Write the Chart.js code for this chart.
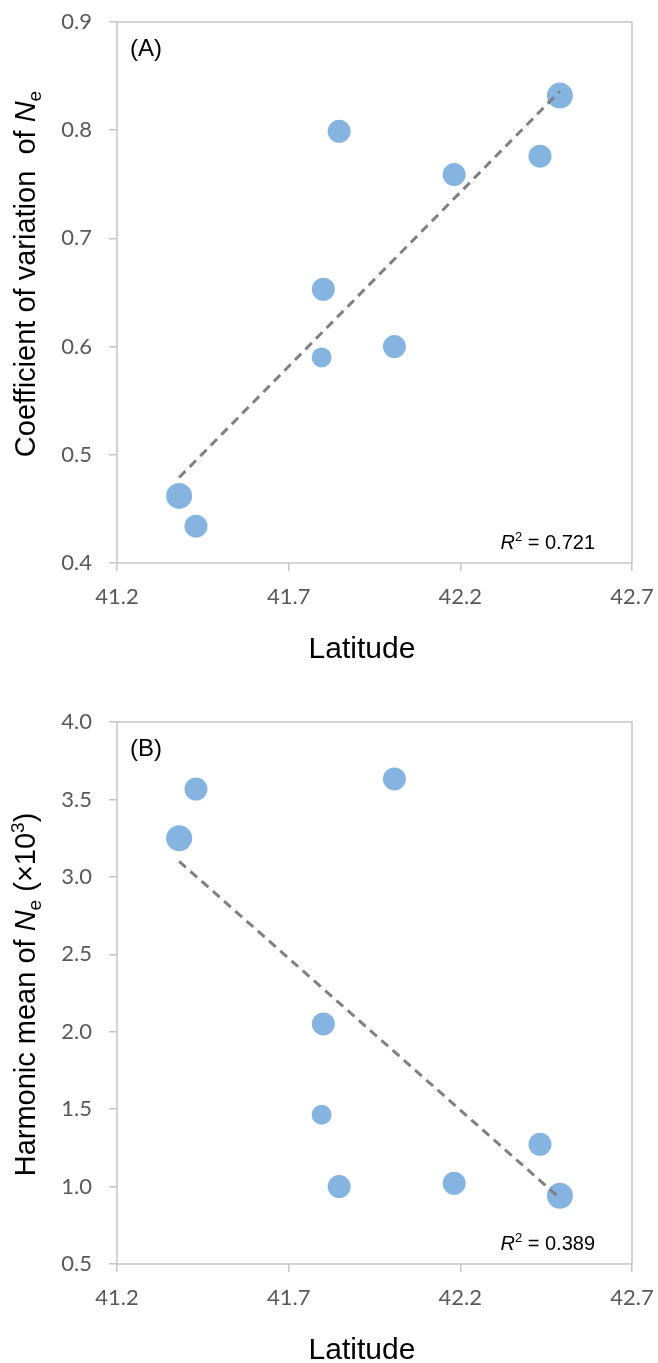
<!DOCTYPE html>
<html>
<head>
<meta charset="utf-8">
<script src="https://cdn.jsdelivr.net/npm/chart.js@4"></script>
<style>
  body { margin: 0; background: #fff; }
  canvas { display: block; }
</style>
</head>
<body>
<canvas id="chartA" width="658" height="680"></canvas>
<canvas id="chartB" width="658" height="683"></canvas>
<script>
// Data
const latitude = [41.381, 41.430, 41.796, 41.801, 41.847, 42.008, 42.182, 42.432, 42.490];
const cvNe = [0.462, 0.434, 0.590, 0.653, 0.799, 0.600, 0.759, 0.776, 0.832];
const harmonicNe = [3.249, 3.567, 1.464, 2.050, 1.000, 3.632, 1.021, 1.273, 0.941];

// Trend lines (endpoints)
const trendLatitude = [41.381, 42.490];
const trendCv = [0.479, 0.836];
const trendHarmonic = [3.10, 0.925];

// Axis ticks
const latitudeTicks = [41.2, 41.7, 42.2, 42.7];
const cvTicks = [0.4, 0.5, 0.6, 0.7, 0.8, 0.9];
const harmonicTicks = [0.5, 1.0, 1.5, 2.0, 2.5, 3.0, 3.5, 4.0];

// Marker radii (style)
const pointRadii = [13, 11.5, 10, 11.5, 11.5, 11.5, 11.5, 11.5, 13];

const pointColor = '#85b4e0';
const frameColor = '#c6c6c6';
const tickFont = { family: 'Lato', size: 22 };
const titleFamily = '"Liberation Sans", Arial, sans-serif';

function toPoints(xs, ys) {
    return xs.map((x, i) => ({ x: x, y: ys[i] }));
}

// Draw a run of text pieces with different fonts / offsets
function drawRich(ctx, parts, x, y, align) {
    let total = 0;
    parts.forEach(p => { ctx.font = p.font; p.w = ctx.measureText(p.t).width; total += p.w; });
    let cur = align === 'center' ? x - total / 2 : (align === 'right' ? x - total : x);
    ctx.textAlign = 'left';
    parts.forEach(p => {
        ctx.font = p.font;
        ctx.fillText(p.t, cur, y + (p.dy || 0));
        cur += p.w;
    });
}

const decorPlugin = {
    id: 'decor',
    beforeDatasetsDraw(chart) {
        const a = chart.chartArea;
        const ctx = chart.ctx;
        ctx.save();
        ctx.strokeStyle = frameColor;
        ctx.lineWidth = 1.5;
        ctx.strokeRect(a.left, a.top, a.right - a.left, a.bottom - a.top);
        ctx.restore();
    },
    afterDraw(chart, args, opts) {
        const a = chart.chartArea;
        const ctx = chart.ctx;
        ctx.save();
        ctx.fillStyle = '#000';
        ctx.textBaseline = 'middle';
        ctx.font = '24px ' + titleFamily;
        ctx.textAlign = 'left';
        ctx.fillText(opts.panel, a.left + 13, a.top + 27);

        ctx.textBaseline = 'alphabetic';
        drawRich(ctx, [
            { t: 'R', font: 'italic 20px ' + titleFamily },
            { t: '2', font: '13px ' + titleFamily, dy: -8 },
            { t: ' = ' + opts.r2, font: '20px ' + titleFamily }
        ], a.right - 37, a.bottom - 14, 'right');

        drawRich(ctx, [{ t: 'Latitude', font: '30px ' + titleFamily }], 362, a.bottom + 95, 'center');

        ctx.translate(35, opts.yTitleCenter);
        ctx.rotate(-Math.PI / 2);
        drawRich(ctx, opts.yTitle, 0, 0, 'center');
        ctx.restore();
    }
};

function makeChart(id, yValues, trendY, yTicks, yMin, yMax, cfg) {
    return new Chart(document.getElementById(id), {
        type: 'scatter',
        data: {
            datasets: [
                {
                    type: 'line',
                    data: toPoints(trendLatitude, trendY),
                    borderColor: '#808080',
                    borderWidth: 3,
                    borderDash: [9, 6],
                    pointRadius: 0,
                    fill: false,
                    order: 0
                },
                {
                    data: toPoints(latitude, yValues),
                    backgroundColor: pointColor,
                    borderWidth: 0,
                    pointRadius: pointRadii,
                    pointHoverRadius: pointRadii,
                    order: 1
                }
            ]
        },
        options: {
            responsive: false,
            animation: false,
            layout: { padding: { top: cfg.padTop, right: 26, left: 0, bottom: 0 } },
            plugins: {
                legend: { display: false },
                tooltip: { enabled: false },
                decor: { panel: cfg.panel, r2: cfg.r2, yTitle: cfg.yTitle, yTitleCenter: cfg.yTitleCenter }
            },
            scales: {
                x: {
                    type: 'linear',
                    min: 41.2,
                    max: 42.7,
                    afterBuildTicks: s => { s.ticks = latitudeTicks.map(v => ({ value: v })); },
                    afterFit: s => { s.height = cfg.xHeight; s.paddingLeft = 0; s.paddingRight = 0; },
                    border: { display: false },
                    grid: { drawOnChartArea: false, drawTicks: true, tickLength: 8, color: frameColor, lineWidth: 1.5 },
                    ticks: { color: '#595959', font: tickFont, padding: 13, maxRotation: 0,
                             callback: v => v.toFixed(1) }
                },
                y: {
                    type: 'linear',
                    min: yMin,
                    max: yMax,
                    afterBuildTicks: s => { s.ticks = yTicks.map(v => ({ value: v })); },
                    afterFit: s => { s.width = 117; s.paddingTop = 0; s.paddingBottom = 0; },
                    border: { display: false },
                    grid: { drawOnChartArea: false, drawTicks: true, tickLength: 8, color: frameColor, lineWidth: 1.5 },
                    ticks: { color: '#595959', font: tickFont, padding: 17,
                             callback: v => cfg.decimals(v) }
                }
            }
        },
        plugins: [decorPlugin]
    });
}

const f = titleFamily;
makeChart('chartA', cvNe, trendCv, cvTicks, 0.4, 0.9, {
    padTop: 22, xHeight: 117, panel: '(A)', r2: '0.721', yTitleCenter: 274,
    decimals: v => v.toFixed(1),
    yTitle: [
        { t: 'Coefficient of variation  of ', font: '29px ' + f },
        { t: 'N', font: 'italic 29px ' + f },
        { t: 'e', font: '19px ' + f, dy: 6 }
    ]
});

makeChart('chartB', harmonicNe, trendHarmonic, harmonicTicks, 0.5, 4.0, {
    padTop: 42, xHeight: 99, panel: '(B)', r2: '0.389', yTitleCenter: 314.5,
    decimals: v => v.toFixed(1),
    yTitle: [
        { t: 'Harmonic mean of ', font: '29px ' + f },
        { t: 'N', font: 'italic 29px ' + f },
        { t: 'e', font: '19px ' + f, dy: 6 },
        { t: ' (\u00d710', font: '29px ' + f },
        { t: '3', font: '19px ' + f, dy: -11 },
        { t: ')', font: '29px ' + f }
    ]
});
</script>
</body>
</html>
